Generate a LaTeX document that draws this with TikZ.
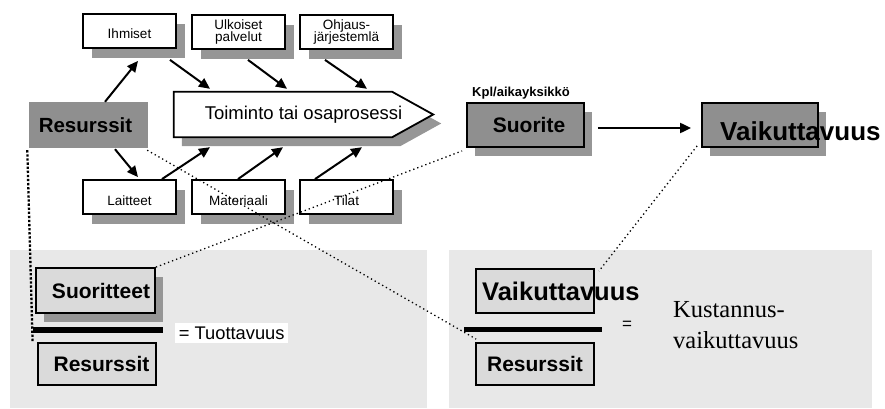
\documentclass[tikz,border=0pt]{standalone}
\usepackage{fontspec}
\setmainfont{Liberation Sans}
\newfontfamily\serifface{Liberation Serif}
\usetikzlibrary{arrows.meta,calc,shadows}

\definecolor{shadowgray}{HTML}{969696}
\definecolor{midgray}{HTML}{8F8F8F}
\definecolor{lightbox}{HTML}{DADADA}
\definecolor{panelgray}{HTML}{E8E8E8}

\tikzset{
  smallshadow/.style={drop shadow={shadow xshift=9pt, shadow yshift=-10pt, fill=shadowgray, opacity=1}},
  bigshadow/.style={drop shadow={shadow xshift=8pt, shadow yshift=-9pt, fill=shadowgray, opacity=1}},
  smallbox/.style={draw, line width=1.8pt, fill=white, smallshadow,
    minimum width=93pt, minimum height=34pt, inner sep=0pt, align=center,
    font=\fontsize{13.5}{12.8}\selectfont},
  oneline/.style={text height=16pt, text depth=0pt},
  graybox/.style={draw, line width=1.8pt, fill=midgray, inner sep=0pt,
    minimum width=117pt, minimum height=44pt},
  lightframe/.style={draw, line width=1.8pt, fill=lightbox, inner sep=0pt,
    minimum width=118pt, minimum height=44pt},
  panel/.style={fill=panelgray, inner sep=0pt, minimum height=158pt},
  bigbold/.style={font=\bfseries\fontsize{21}{21}\selectfont},
  flow/.style={line width=2pt, -{Triangle[length=11pt,width=10pt]}},
  dotline/.style={line width=1.3pt, dash pattern=on 1.3pt off 3pt},
  thickdots/.style={line width=2.3pt, dash pattern=on 2.3pt off 1.8pt},
  fracbar/.style={fill=black, inner sep=0pt, minimum height=5.5pt},
}

\begin{document}
\begin{tikzpicture}[x=1pt, y=-1pt]
\useasboundingbox (0,0) rectangle (885,409);

% the two formula panels
\node[panel, minimum width=417pt] (lpanel) at (218.5,329) {};
\node[panel, minimum width=423pt] (rpanel) at (660.5,329) {};

% resources feeding the activity
\node[smallbox, oneline] (ihm) at (129.5,31) {Ihmiset};
\node[smallbox] (ulk) at (238.5,32) {Ulkoiset\\palvelut};
\node[smallbox] (ohj) at (346.5,32) {Ohjaus-\\järjestemlä};
\node[smallbox, oneline] (lai) at (129.5,197) {Laitteet};
\node[smallbox, oneline] (mat) at (238.5,197) {Materiaali};
\node[smallbox, oneline] (til) at (346.5,197) {Tilat};

\node[fill=midgray, inner sep=0pt, minimum width=119pt, minimum height=46pt,
  font=\bfseries\fontsize{20.5}{20.5}\selectfont] (res) at (88.5,125) {Resurssit\hspace*{6pt}};

% activity arrow shape
\node[minimum width=259pt, minimum height=45pt, inner sep=0pt] (toi) at (303.5,114.5) {};
\draw[line width=1.8pt, fill=white, bigshadow]
  (toi.north west) -- ($(toi.north east)+(-41,0)$) -- (toi.east)
  -- ($(toi.south east)+(-41,0)$) -- (toi.south west) -- cycle;
\node[font=\fontsize{18.5}{18.5}\selectfont, inner sep=0pt] (toitext) at (toi.center) {Toiminto tai osaprosessi};

% output and effectiveness
\node[font=\bfseries\fontsize{13}{13}\selectfont, inner sep=0pt, anchor=base] (kpl) at (521,96) {Kpl/aikayksikkö};
\node[graybox, bigshadow, bigbold] (sui) at (525.5,125) {\hspace*{7pt}Suorite};
\node[graybox, bigshadow, minimum width=116pt] (vai) at (760,125) {};
\node[font=\bfseries\fontsize{26}{26}\selectfont, inner sep=0pt, anchor=base west] (vaitext) at (720,140) {Vaikuttavuus};

% arrows
\draw[flow] ($(res.north)+(16.5,0)$) -- ($(ihm.south)+(8.5,12)$);
\draw[flow] ($(res.south)+(26.5,1)$) -- ($(lai.north)+(8.5,-2)$);
\draw[flow] ($(ihm.south)+(40.5,11)$) -- ($(toi.north)+(-93.5,-3)$);
\draw[flow] ($(ulk.south)+(9.5,10)$) -- ($(toi.north)+(-16.5,-3)$);
\draw[flow] ($(ohj.south)+(-21.5,10)$) -- ($(toi.north)+(63.5,-3)$);
\draw[flow] ($(lai.north)+(32.5,0)$) -- ($(toi.south)+(-93.5,10)$);
\draw[flow] ($(mat.north)+(-0.5,0)$) -- ($(toi.south)+(-20.5,10)$);
\draw[flow] ($(til.north)+(-31.5,0)$) -- ($(toi.south)+(58.5,10)$);
\draw[flow] ($(sui.east)+(13,3)$) -- ($(vai.west)+(-10,3)$);

% productivity
\node[lightframe, bigshadow, minimum width=119pt, minimum height=45pt, bigbold] (lsuo) at (95.5,290.5) {\hspace*{11pt}Suoritteet};
\node[fracbar, minimum width=130pt] (lbar) at (98,330) {};
\node[lightframe, minimum height=42pt, bigbold] (lres) at (97,364) {\hspace*{9pt}Resurssit};
\node[fill=white, inner xsep=1pt, inner ysep=0pt, minimum height=20pt, minimum width=113pt, anchor=west,
  font=\fontsize{18.3}{18.3}\selectfont] (tuo) at (175,333) {= Tuottavuus};

% cost effectiveness
\node[lightframe] (rvai) at (535,291) {};
\node[font=\bfseries\fontsize{25.5}{25.5}\selectfont, inner sep=0pt, anchor=base west] (rvaitext) at (482,300.5) {Vaikuttavuus};
\node[fracbar, minimum width=138pt] (rbar) at (533,329.5) {};
\node[lightframe, minimum height=42pt, bigbold] (rres) at (535,364) {Resurssit};
\node[font=\fontsize{17}{17}\selectfont, inner sep=0pt] (req) at (627,325) {=};
\node[font=\serifface\fontsize{24.5}{31}\selectfont, inner sep=0pt, anchor=base west, align=left] (kust) at (673,348.3) {Kustannus-\\vaikuttavuus};

% dotted links between the two views
\draw[dotline] ($(res.south east)+(-1,2)$) -- ($(rres.north west)+(1,-3)$);
\draw[dotline] (lsuo.north east) -- ($(sui.south west)+(-4,3)$);
\draw[dotline] ($(vai.south west)+(-4,-2)$) -- ($(rvai.north east)+(4,3)$);
\draw[thickdots] ($(res.south west)+(-1.5,2)$) -- ($(lres.north west)+(-4.5,0)$);
\end{tikzpicture}
\end{document}
